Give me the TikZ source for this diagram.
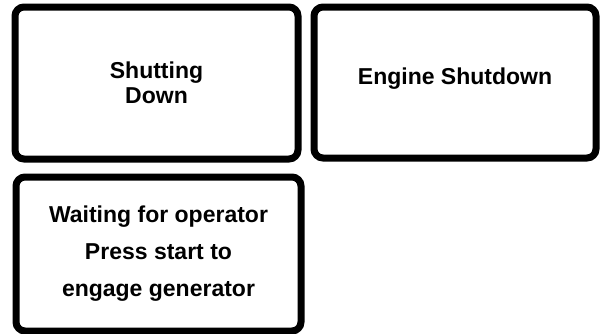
\documentclass[tikz,border=0pt]{standalone}
\usepackage{fontspec}
\setmainfont{Liberation Sans}
\usepackage{tikz}
\usetikzlibrary{positioning}
\tikzset{
  panel/.style={rectangle, rounded corners=9pt, draw=black, line width=7pt, fill=white,
                align=center, font=\fontsize{23}{25}\selectfont\bfseries},
}

\begin{document}
\begin{tikzpicture}[x=1pt, y=-1pt]
    \useasboundingbox (0,0) rectangle (601,333);
    \node[panel, minimum width=283pt, minimum height=152pt] (shutting) at (156.5,83)
      {Shutting\\Down};
    \node[panel, minimum width=282pt, minimum height=151pt, text depth=12pt] (engine) at (455,82.5)
      {Engine Shutdown};
    \node[panel, minimum width=285pt, minimum height=154pt,
          font=\fontsize{23}{37}\selectfont\bfseries] (waiting) at (158.5,254)
      {Waiting for operator\\Press start to\\engage generator};
  \end{tikzpicture}
\end{document}
